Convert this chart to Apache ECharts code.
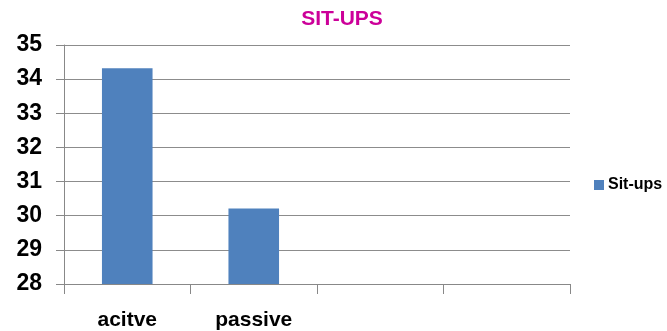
<!DOCTYPE html>
<html><head><meta charset="utf-8">
<script src="https://cdn.jsdelivr.net/npm/echarts@6/dist/echarts.min.js"></script>
<style>html,body{margin:0;padding:0;background:#fff}#c{width:667px;height:331px}</style>
</head><body><div id="c"></div>
<script>
var categories = ['acitve', 'passive', '', ''];
var situps = [34.32, 30.21, null, null];
var seriesName = 'Sit-ups';
var titleText = 'SIT-UPS';

var chart = echarts.init(document.getElementById('c'), null, {renderer: 'canvas'});
chart.setOption({
  animation: false,
  backgroundColor: '#fff',
  title: {
    text: titleText, left: 337, top: 4, textAlign: 'center',
    textStyle: {color: '#CC0099', fontSize: 21, fontWeight: 'bold', fontFamily: 'Liberation Sans'}
  },
  legend: {
    data: [seriesName], left: 589, top: 172, itemWidth: 10, itemHeight: 10, itemGap: 4,
    icon: 'rect',
    textStyle: {fontSize: 16, fontWeight: 'bold', color: '#000', fontFamily: 'Liberation Sans', padding: [0,0,0,-1]}
  },
  grid: {left: 64, top: 45, width: 506, height: 239, containLabel: false},
  xAxis: {
    type: 'category', data: categories,
    axisLine: {lineStyle: {color: '#888', width: 1}},
    axisTick: {show: true, alignWithLabel: false, length: 10, lineStyle: {color: '#888'}},
    axisLabel: {color: '#000', fontSize: 21, fontWeight: 'bold', fontFamily: 'Liberation Sans', margin: 26}
  },
  yAxis: {
    type: 'value', min: 28, max: 35, interval: 1,
    axisLine: {show: true, lineStyle: {color: '#888', width: 1}},
    axisTick: {show: true, length: 8, lineStyle: {color: '#888'}},
    splitLine: {lineStyle: {color: '#8c8c8c', width: 1}},
    axisLabel: {color: '#000', fontSize: 23, fontWeight: 'bold', fontFamily: 'Liberation Sans', margin: 22}
  },
  series: [{
    name: seriesName, type: 'bar', data: situps, barWidth: '40%',
    itemStyle: {color: '#4F81BD'}
  }]
});
</script></body></html>
